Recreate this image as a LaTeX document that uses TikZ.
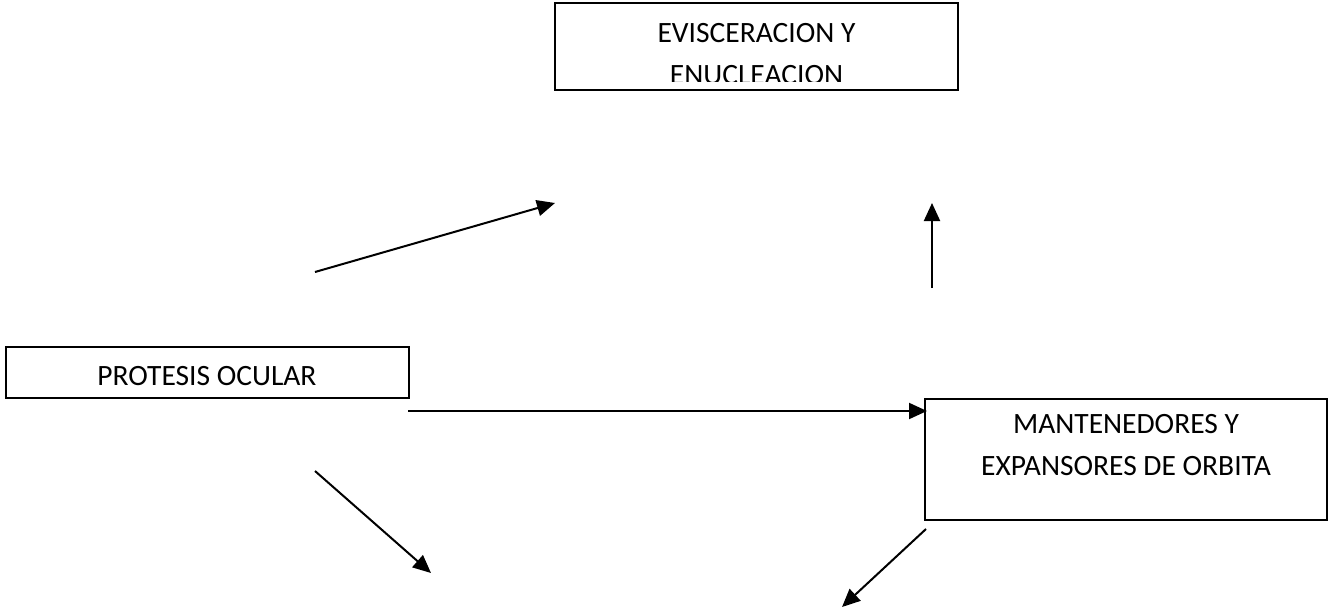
\documentclass[tikz,border=0pt]{standalone}
\usepackage{fontspec}
\setmainfont{Carlito}
\usetikzlibrary{arrows.meta}
\begin{document}
\begin{tikzpicture}[x=1pt,y=-1pt,
  box/.style={draw, line width=2pt, inner sep=0pt, rectangle},
  lbl/.style={font=\fontsize{29.5}{41.5}\selectfont, align=center, inner sep=0pt, anchor=base},
  conn/.style={line width=2pt, -{Triangle[length=18pt,width=16pt]}}]
\useasboundingbox (0,0) rectangle (1329,613);
% boxes
\node[box, minimum width=403pt, minimum height=87pt] (evis) at (756.5,46.5) {};
\node[box, minimum width=403pt, minimum height=51pt] (prot) at (207.5,372.5) {};
\node[box, minimum width=402pt, minimum height=121pt] (mant) at (1126,459.5) {};
% texts (base anchor = baseline of the last line)
\begin{scope}
  \clip ([xshift=1pt,yshift=-1pt]evis.north west) rectangle ([xshift=-1pt,yshift=9.5pt]evis.south east);
  \node[lbl, font=\fontsize{29.5}{42}\selectfont] (evistxt) at (756.5,84.5) {EVISCERACION Y\\ENUCLEACION};
\end{scope}
\node[lbl] (prottxt) at (207,385) {PROTESIS OCULAR};
\node[lbl] (manttxt) at (1126,475) {MANTENEDORES Y\\EXPANSORES DE ORBITA};
% connector end points
\coordinate (a1s) at (315,272);
\coordinate (a1e) at (555,203);
\coordinate (a2s) at (932,288);
\coordinate (a2e) at (932,203);
\coordinate (a3s) at (408,411);
\coordinate (a3e) at (927,411);
\coordinate (a4s) at (315,471);
\coordinate (a4e) at (431,573);
\coordinate (a5s) at (926,529);
\coordinate (a5e) at (842,607);
% connectors
\draw[conn] (a1s) -- (a1e);
\draw[conn] (a2s) -- (a2e);
\draw[conn] (a3s) -- (a3e);
\draw[conn] (a4s) -- (a4e);
\draw[conn] (a5s) -- (a5e);
\end{tikzpicture}
\end{document}
